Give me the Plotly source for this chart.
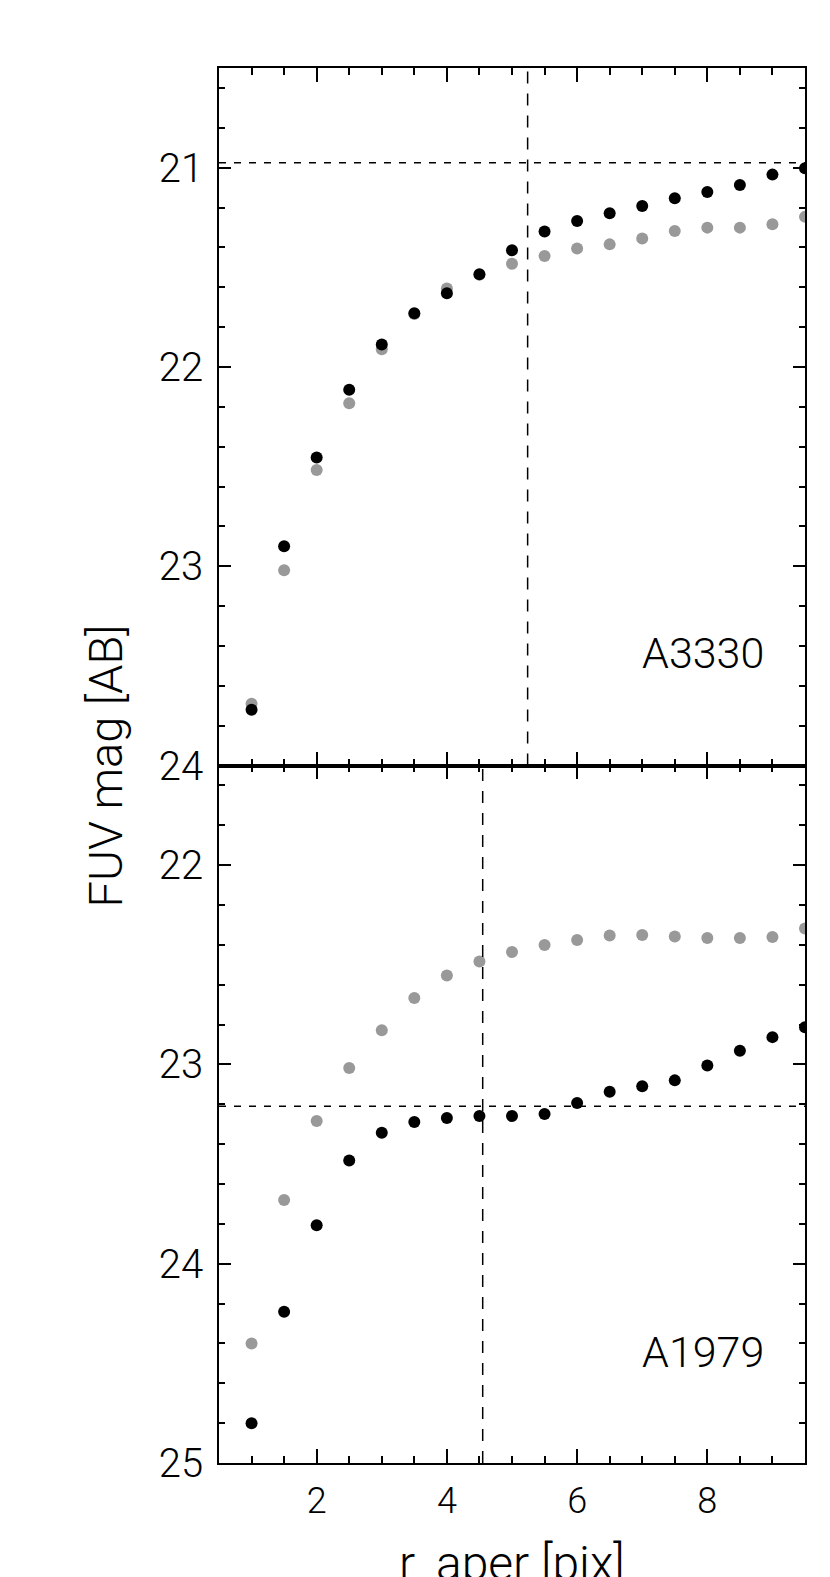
import plotly.graph_objects as go
from plotly.subplots import make_subplots

# aperture radius [pix]
r_aper = [1.0, 1.5, 2.0, 2.5, 3.0, 3.5, 4.0, 4.5, 5.0,
          5.5, 6.0, 6.5, 7.0, 7.5, 8.0, 8.5, 9.0, 9.5]

# A3330
a3330_black = [23.72, 22.90, 22.455, 22.115, 21.888, 21.731, 21.630, 21.535, 21.415,
               21.321, 21.268, 21.229, 21.192, 21.154, 21.122, 21.087, 21.035, 21.003]
a3330_gray = [23.69, 23.02, 22.517, 22.182, 21.911, 21.735, 21.607, 21.538, 21.482,
              21.443, 21.406, 21.385, 21.356, 21.318, 21.301, 21.301, 21.284, 21.247]
a3330_rcut = 5.24
a3330_mag = 20.975

# A1979
a1979_black = [24.80, 24.241, 23.807, 23.482, 23.343, 23.289, 23.269, 23.259, 23.259,
               23.249, 23.194, 23.137, 23.109, 23.080, 23.005, 22.931, 22.863, 22.813]
a1979_gray = [24.40, 23.68, 23.284, 23.018, 22.829, 22.667, 22.554, 22.483, 22.436,
              22.401, 22.376, 22.353, 22.351, 22.358, 22.366, 22.366, 22.361, 22.318]
a1979_rcut = 4.55
a1979_mag = 23.21

x_ticks = [2, 4, 6, 8]
top_ticks = [21, 22, 23, 24]
bottom_ticks = [22, 23, 24, 25]

FONT = "Roboto"
GRAY = "#999999"

fig = make_subplots(rows=2, cols=1, shared_xaxes=True, vertical_spacing=0)

panels = [
    (1, a3330_gray, a3330_black),
    (2, a1979_gray, a1979_black),
]
for row, gray, black in panels:
    fig.add_trace(go.Scatter(x=r_aper, y=gray, mode="markers",
                             marker=dict(size=12, color=GRAY), showlegend=False),
                  row=row, col=1)
    fig.add_trace(go.Scatter(x=r_aper, y=black, mode="markers",
                             marker=dict(size=12, color="black"), showlegend=False),
                  row=row, col=1)

hdash = dict(color="black", width=1.5, dash="7px,8px")
vdash = dict(color="black", width=1.5, dash="12px,10px")
fig.add_hline(y=a3330_mag, line=hdash, row=1, col=1)
fig.add_vline(x=a3330_rcut, line=vdash, row=1, col=1)
fig.add_hline(y=a1979_mag, line=hdash, row=2, col=1)
fig.add_vline(x=a1979_rcut, line=vdash, row=2, col=1)

xcommon = dict(range=[0.5, 9.5], tickvals=x_ticks, ticks="inside", ticklen=14,
               tickwidth=1.5, tickcolor="black", showline=True, linecolor="black",
               linewidth=1.6, mirror="ticks", showgrid=False, zeroline=False,
               minor=dict(dtick=0.5, ticks="inside", ticklen=7, tickwidth=1.5,
                          tickcolor="black", showgrid=False))
ycommon = dict(ticks="inside", ticklen=12, tickwidth=1.5, tickcolor="black",
               showline=True, linecolor="black", linewidth=1.6, mirror="ticks",
               showgrid=False, zeroline=False, ticklabelstandoff=6,
               tickfont=dict(family=FONT, size=40, color="black", weight=300),
               minor=dict(dtick=0.2, ticks="inside", ticklen=6, tickwidth=1.5,
                          tickcolor="black", showgrid=False))

fig.update_xaxes(**xcommon)
fig.update_xaxes(showticklabels=False, row=1, col=1)
fig.update_xaxes(tickfont=dict(family=FONT, size=36, color="black", weight=300),
                 ticklabelstandoff=5, row=2, col=1)
fig.update_yaxes(**ycommon)
fig.update_yaxes(range=[24, 20.5], tickvals=top_ticks, row=1, col=1)
fig.update_yaxes(range=[25, 21.5], tickvals=bottom_ticks, row=2, col=1)

fig.add_annotation(x=8.9, y=23.436, xref="x", yref="y", text="A3330",
                   showarrow=False, xanchor="right", yanchor="middle",
                   font=dict(family=FONT, size=43, color="black", weight=300))
fig.add_annotation(x=8.9, y=24.445, xref="x2", yref="y2", text="A1979",
                   showarrow=False, xanchor="right", yanchor="middle",
                   font=dict(family=FONT, size=43, color="black", weight=300))
fig.add_annotation(x=-0.193, y=0.5, xref="paper", yref="paper", text="FUV mag [AB]",
                   showarrow=False, textangle=-90, xanchor="center", yanchor="middle",
                   font=dict(family=FONT, size=47, color="black", weight=300))
fig.add_annotation(x=0.5, y=-0.0717, xref="paper", yref="paper", text="r_aper [pix]",
                   showarrow=False, xanchor="center", yanchor="middle",
                   font=dict(family=FONT, size=48, color="black", weight=300))

# page body adds ~8px offset; margins compensate so the frame sits where the reference has it
fig.update_layout(width=830, height=1577, plot_bgcolor="white", paper_bgcolor="white",
                  margin=dict(l=211, r=33, t=60, b=122), showlegend=False)

fig.write_html("out.html")
